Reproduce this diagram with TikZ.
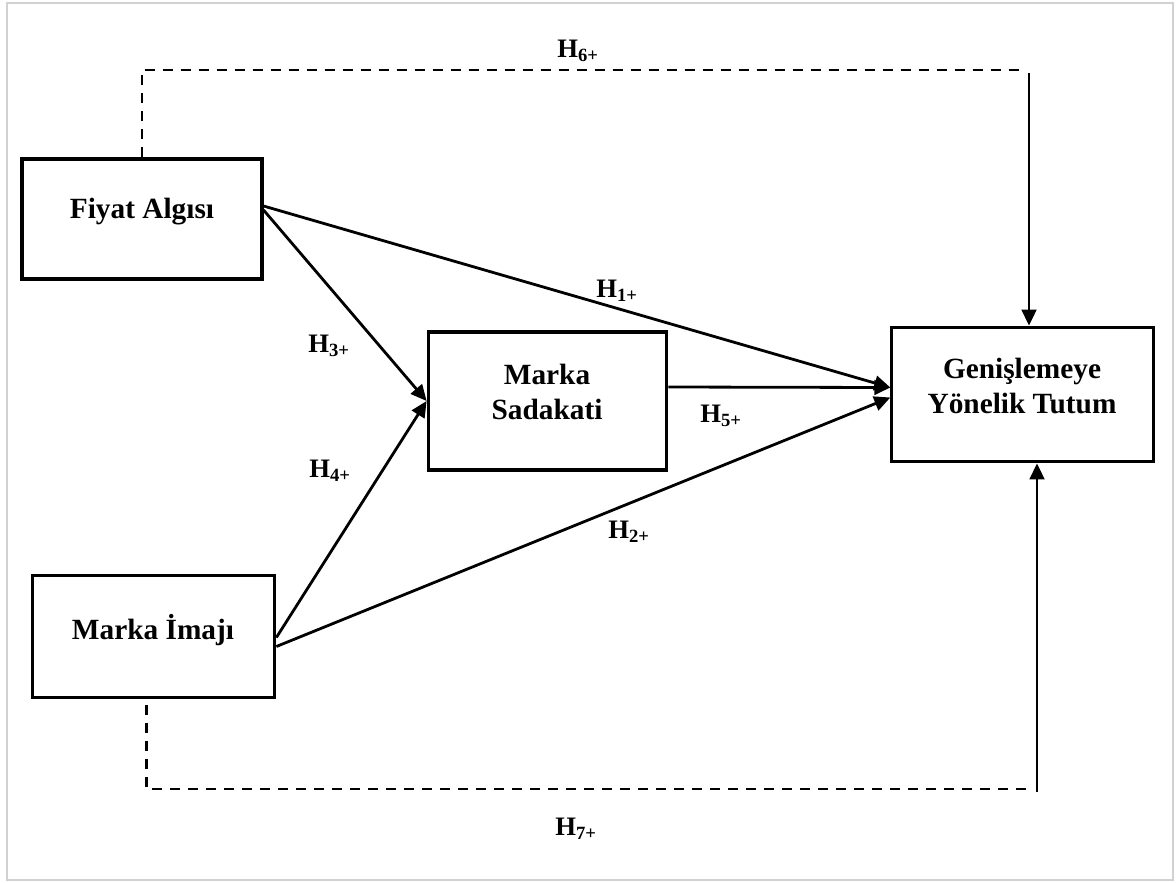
\documentclass[tikz,border=0pt]{standalone}
\usepackage{fontspec}
\setmainfont{Liberation Serif}
\usetikzlibrary{arrows.meta,calc}

\tikzset{every picture/.style={line width=0.75pt}}
\tikzset{
  kutu/.style={draw, line width=2.3pt, inner sep=0pt},
  yazi/.style={font=\fontsize{22}{26}\selectfont\bfseries, align=center},
  hip/.style={font=\fontsize{20}{22}\selectfont\bfseries},
  ok/.style={-{Triangle[length=12pt,width=11pt]}, line width=2.1pt},
  kesik/.style={line width=2.1pt, dash pattern=on 7.5pt off 6pt}
}

\begin{document}
\begin{tikzpicture}[x=0.75pt,y=0.75pt,yscale=-1,xscale=1]

        \useasboundingbox (0,0) rectangle (1176,882);
        \draw[line width=1pt, black!18] (7,3) rectangle (1173,880);

        \node[kutu, minimum width=180pt, minimum height=90pt] (fiyat) at (142,219){};
        \node[kutu, minimum width=179pt, minimum height=103.5pt] (sadakat) at (547.5,401){};
        \node[kutu, minimum width=196pt, minimum height=101pt] (tutum) at (1022.5,394.5){};
        \node[kutu, minimum width=182pt, minimum height=91pt] (imaj) at (153.5,636.5){};

        \node[yazi] (fiyatyazi) at (142,212){Fiyat Algısı};
        \node[yazi] (sadakatyazi) at (547,392){Marka\\Sadakati};
        \node[yazi] (tutumyazi) at (1022,386){Genişlemeye\\Yönelik Tutum};
        \node[yazi] (imajyazi) at (153,630){Marka İmajı};

        \coordinate (k6) at (1029,70);
        \coordinate (k7) at (1037,789);

        \draw[ok] ($(fiyat.east)+(0,-13)$) -- ($(tutum.west)+(0,-7)$);
        \draw[ok] ($(fiyat.east)+(0,-9)$) -- (sadakat.west);
        \draw[ok] ($(imaj.east)+(0,1)$) -- (sadakat.west);
        \draw[ok] ($(imaj.east)+(0,10)$) -- ($(tutum.west)+(0,3)$);
        \draw[ok] ($(sadakat.east)+(0,-14)$) -- ($(tutum.west)+(0,-7)$);

        \draw[kesik] (fiyat.north) |- ($(k6)+(-10,0)$);
        \draw[ok] ($(k6)+(0,3)$) -- (k6 |- tutum.north);
        \draw[kesik] ($(imaj.south)+(-7,6)$) |- ($(k7)+(-10,0)$);
        \draw[ok] ($(k7)+(0,3)$) -- (k7 |- tutum.south);

        \node[hip] (h1) at (617,291){H\textsubscript{1+}};
        \node[hip] (h2) at (629,532){H\textsubscript{2+}};
        \node[hip] (h3) at (329,346){H\textsubscript{3+}};
        \node[hip] (h4) at (330,471){H\textsubscript{4+}};
        \node[hip] (h5) at (721,416){H\textsubscript{5+}};
        \node[hip] (h6) at (578,51){H\textsubscript{6+}};
        \node[hip] (h7) at (576,829){H\textsubscript{7+}};

\end{tikzpicture}
\end{document}
